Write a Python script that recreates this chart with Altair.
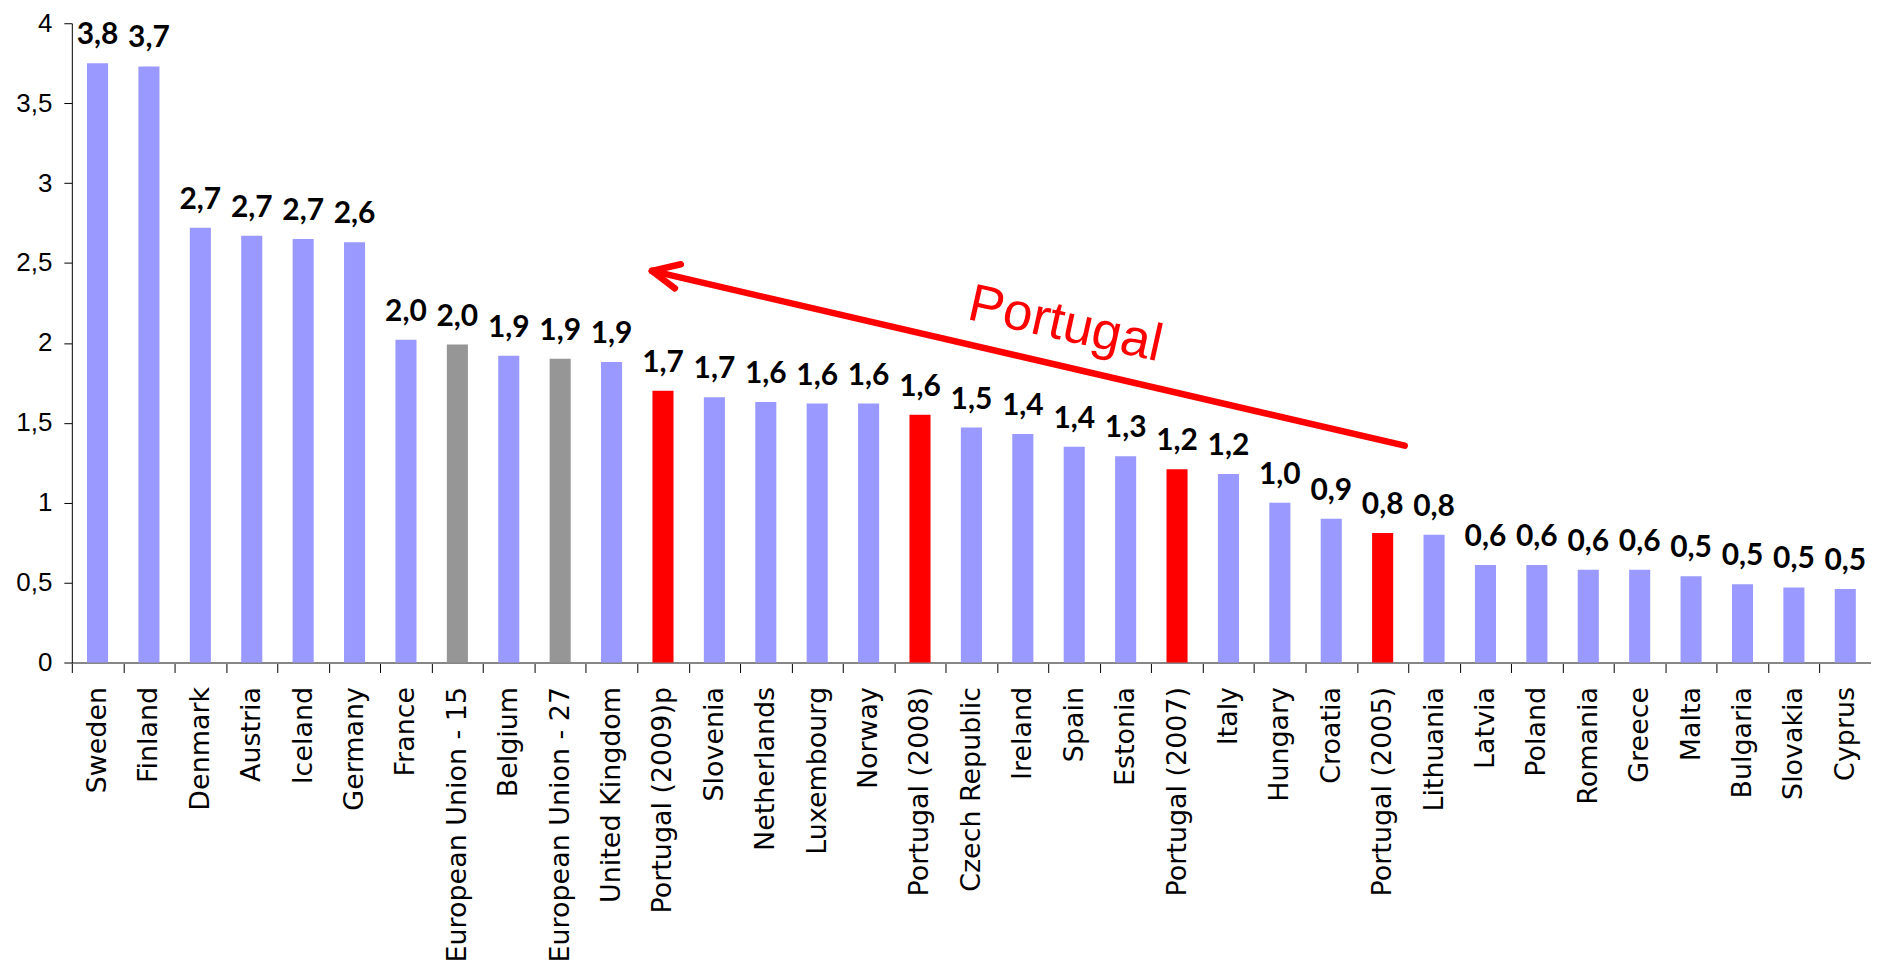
import altair as alt
import pandas as pd

categories = [
    "Sweden", "Finland", "Denmark", "Austria", "Iceland", "Germany", "France",
    "European Union - 15", "Belgium", "European Union - 27", "United Kingdom",
    "Portugal (2009)p", "Slovenia", "Netherlands", "Luxembourg", "Norway",
    "Portugal (2008)", "Czech Republic", "Ireland", "Spain", "Estonia",
    "Portugal (2007)", "Italy", "Hungary", "Croatia", "Portugal (2005)",
    "Lithuania", "Latvia", "Poland", "Romania", "Greece", "Malta", "Bulgaria",
    "Slovakia", "Cyprus",
]
values = [
    3.75, 3.73, 2.72, 2.67, 2.65, 2.63, 2.02,
    1.99, 1.92, 1.90, 1.88,
    1.70, 1.66, 1.63, 1.62, 1.62,
    1.55, 1.47, 1.43, 1.35, 1.29,
    1.21, 1.18, 1.00, 0.90, 0.81,
    0.80, 0.61, 0.61, 0.58, 0.58, 0.54, 0.49,
    0.47, 0.46,
]
labels = [
    "3,8", "3,7", "2,7", "2,7", "2,7", "2,6", "2,0",
    "2,0", "1,9", "1,9", "1,9",
    "1,7", "1,7", "1,6", "1,6", "1,6",
    "1,6", "1,5", "1,4", "1,4", "1,3",
    "1,2", "1,2", "1,0", "0,9", "0,8",
    "0,8", "0,6", "0,6", "0,6", "0,6", "0,5", "0,5",
    "0,5", "0,5",
]
groups = [
    "country", "country", "country", "country", "country", "country", "country",
    "eu", "country", "eu", "country",
    "portugal", "country", "country", "country", "country",
    "portugal", "country", "country", "country", "country",
    "portugal", "country", "country", "country", "portugal",
    "country", "country", "country", "country", "country", "country", "country",
    "country", "country",
]
group_names = ["country", "eu", "portugal"]
group_colors = ["#9999FF", "#969696", "#FF0000"]

# annotation arrow (x in category-index units, y in data units)
arrow_x = [11.285, 11.285, 11.285]
arrow_y = [2.450, 2.450, 2.450]
arrow_x2 = [25.93, 11.847, 11.731]
arrow_y2 = [1.357, 2.492, 2.341]

note_text = ["Portugal"]
note_x = [19.26]
note_y = [2.018]

bars_df = pd.DataFrame({"country": categories, "value": values,
                        "label": labels, "group": groups})
arrow_df = pd.DataFrame({"x": arrow_x, "y": arrow_y, "x2": arrow_x2, "y2": arrow_y2})
note_df = pd.DataFrame({"text": note_text, "x": note_x, "y": note_y})

x_enc = alt.X(
    "country:N", sort=None,
    scale=alt.Scale(paddingInner=0, paddingOuter=0),
    axis=alt.Axis(
        title=None, labelAngle=-90, labelAlign="right", labelBaseline="middle",
        labelFont="DejaVu Sans", labelFontSize=27, labelColor="#000000",
        labelPadding=14, labelOverlap=False, labelLimit=0,
        tickBand="extent", tickSize=10, tickColor="#000000", tickWidth=1,
        domainColor="#868686", domainWidth=2, grid=False,
    ),
)
y_scale = alt.Scale(domain=[0, 4], nice=False, zero=True)
y_enc = alt.Y(
    "value:Q", scale=y_scale,
    axis=alt.Axis(
        title=None, values=[0, 0.5, 1, 1.5, 2, 2.5, 3, 3.5, 4],
        labelExpr="replace(toString(datum.value), '.', ',')",
        labelFont="Liberation Sans", labelFontSize=26, labelColor="#000000",
        labelPadding=12, tickSize=8, tickColor="#000000", domainColor="#000000",
        domainWidth=1, grid=False,
    ),
)

bars = alt.Chart(bars_df).mark_bar(width=alt.RelativeBandSize(0.41)).encode(
    x=x_enc,
    y=y_enc,
    color=alt.Color("group:N", scale=alt.Scale(domain=group_names, range=group_colors),
                    legend=None),
)
value_text = alt.Chart(bars_df).mark_text(
    font="Lato", fontWeight="bold", fontSize=30, color="#000000",
    baseline="alphabetic", align="center", dy=-19,
).encode(x=x_enc, y=y_enc, text="label:N")

qx = alt.Scale(domain=[0, 35], nice=False, zero=False)
arrow = alt.Chart(arrow_df).mark_rule(
    color="#FF0000", strokeWidth=6.5, strokeCap="round",
).encode(
    x=alt.X("x:Q", scale=qx, axis=None),
    x2="x2",
    y=alt.Y("y:Q", scale=y_scale, title=None),
    y2="y2",
)
note = alt.Chart(note_df).mark_text(
    font="Liberation Sans", fontSize=53, color="#FF0000", angle=12.5,
    align="center", baseline="alphabetic",
).encode(
    x=alt.X("x:Q", scale=qx, axis=None),
    y=alt.Y("y:Q", scale=y_scale, title=None),
    text="text:N",
)

chart = alt.layer(
    alt.layer(bars, value_text),
    alt.layer(arrow, note),
).resolve_scale(x="independent").properties(
    width=1804, height=641,
    autosize=alt.AutoSizeParams(type="none"),
    padding={"left": 64, "top": 14, "right": 0, "bottom": 301},
    background="white",
).configure_view(stroke=None)

chart.save("out.html", embed_options={"renderer": "svg", "actions": False})
